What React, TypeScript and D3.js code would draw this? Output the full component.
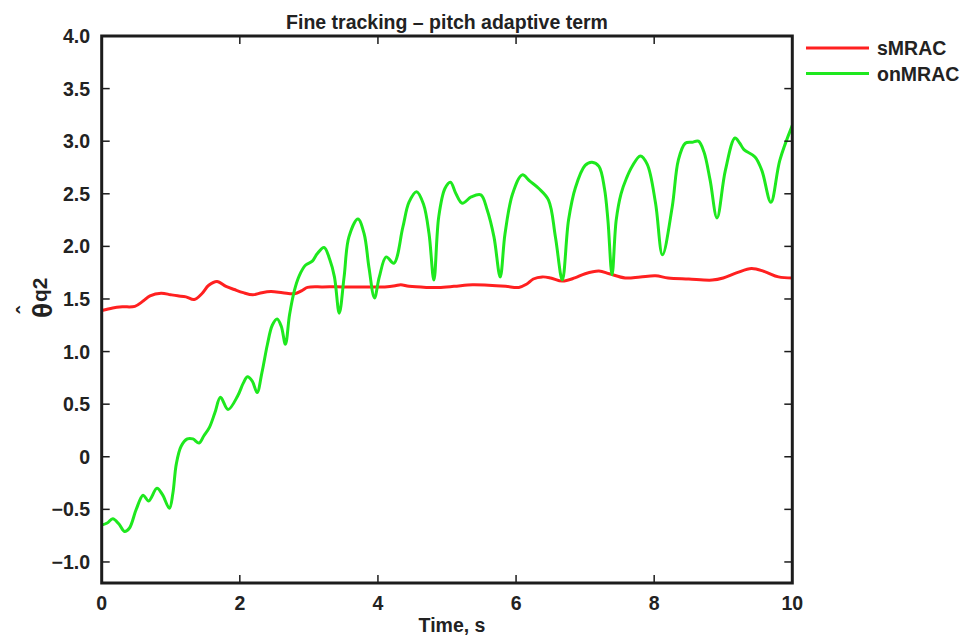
import React from "react";
import * as d3 from "d3";

const xTicks = [0, 2, 4, 6, 8, 10];
const yTicks = [-1.0, -0.5, 0, 0.5, 1.0, 1.5, 2.0, 2.5, 3.0, 3.5, 4.0];
const yTickLabels = ["\u22121.0", "\u22120.5", "0", "0.5", "1.0", "1.5", "2.0", "2.5", "3.0", "3.5", "4.0"];

const sTime = [0, 0.16, 0.3, 0.48, 0.6, 0.7, 0.86, 1.0, 1.1, 1.22, 1.34, 1.45, 1.55, 1.67, 1.8, 1.92, 2.05, 2.19, 2.32, 2.45, 2.62, 2.79, 2.9, 2.98, 3.2, 3.5, 3.8, 4.1, 4.25, 4.33, 4.45, 4.7, 4.88, 5.1, 5.37, 5.6, 5.85, 6.04, 6.15, 6.25, 6.38, 6.5, 6.67, 6.85, 7.0, 7.2, 7.35, 7.58, 7.8, 8.02, 8.2, 8.5, 8.84, 9.0, 9.2, 9.41, 9.6, 9.8, 10.0];
const sMRAC = [1.39, 1.415, 1.425, 1.43, 1.48, 1.53, 1.555, 1.54, 1.53, 1.52, 1.495, 1.55, 1.63, 1.667, 1.62, 1.59, 1.56, 1.54, 1.56, 1.57, 1.56, 1.55, 1.58, 1.61, 1.615, 1.615, 1.615, 1.615, 1.625, 1.635, 1.62, 1.61, 1.61, 1.62, 1.635, 1.63, 1.62, 1.61, 1.64, 1.69, 1.71, 1.7, 1.67, 1.7, 1.74, 1.765, 1.74, 1.7, 1.71, 1.72, 1.7, 1.69, 1.68, 1.7, 1.75, 1.79, 1.76, 1.71, 1.7];

const oTime = [0, 0.08, 0.16, 0.25, 0.33, 0.4, 0.5, 0.6, 0.68, 0.8, 0.88, 0.98, 1.03, 1.08, 1.15, 1.24, 1.32, 1.41, 1.48, 1.56, 1.64, 1.72, 1.83, 1.97, 2.05, 2.11, 2.18, 2.25, 2.32, 2.4, 2.47, 2.54, 2.6, 2.66, 2.72, 2.79, 2.86, 2.95, 3.05, 3.12, 3.22, 3.3, 3.37, 3.44, 3.51, 3.58, 3.71, 3.8, 3.87, 3.95, 4.02, 4.12, 4.23, 4.36, 4.45, 4.56, 4.66, 4.74, 4.81, 4.88, 4.97, 5.05, 5.13, 5.22, 5.35, 5.49, 5.58, 5.68, 5.77, 5.84, 5.95, 6.09, 6.2, 6.33, 6.47, 6.57, 6.67, 6.76, 6.86, 7.0, 7.1, 7.2, 7.28, 7.33, 7.39, 7.45, 7.52, 7.6, 7.68, 7.8, 7.9, 8.02, 8.12, 8.26, 8.35, 8.45, 8.55, 8.64, 8.72, 8.81, 8.91, 9.03, 9.17, 9.24, 9.3, 9.46, 9.56, 9.69, 9.82, 10.0];
const onMRAC = [-0.65, -0.63, -0.59, -0.64, -0.71, -0.68, -0.5, -0.365, -0.42, -0.3, -0.36, -0.49, -0.35, -0.07, 0.1, 0.17, 0.17, 0.13, 0.2, 0.28, 0.42, 0.565, 0.45, 0.58, 0.7, 0.76, 0.72, 0.61, 0.8, 1.07, 1.25, 1.31, 1.24, 1.07, 1.35, 1.58, 1.72, 1.82, 1.86, 1.93, 1.99, 1.88, 1.71, 1.365, 1.71, 2.09, 2.26, 2.12, 1.8, 1.51, 1.71, 1.9, 1.84, 2.18, 2.42, 2.52, 2.4, 2.12, 1.68, 2.28, 2.55, 2.61, 2.5, 2.41, 2.47, 2.49, 2.35, 2.09, 1.71, 2.12, 2.5, 2.68, 2.62, 2.55, 2.44, 2.09, 1.68, 2.25, 2.56, 2.77, 2.8, 2.76, 2.55, 2.25, 1.73, 2.25, 2.5, 2.65, 2.76, 2.86, 2.78, 2.41, 1.92, 2.37, 2.82, 2.98, 2.99, 3.0, 2.9, 2.63, 2.27, 2.72, 3.03, 2.98, 2.92, 2.85, 2.72, 2.42, 2.82, 3.15];

const seriesNames = ["sMRAC", "onMRAC"];
const seriesColors = ["#ff2020", "#1ee81e"];

const W = 966;
const H = 635;
const left = 101.7;
const right = 792.3;
const top = 36;
const bottom = 583;
const FONT = "'Liberation Sans', Arial, Helvetica, sans-serif";

export default function App() {
  const x = d3.scaleLinear().domain([0, 10]).range([left, right]);
  const y = d3.scaleLinear().domain([-1.2, 4.0]).range([bottom, top]);
  const line = d3
    .line<[number, number]>()
    .x((d) => x(d[0]))
    .y((d) => y(d[1]))
    .curve(d3.curveCatmullRom.alpha(0.5));
  const sPts = sTime.map((t, i) => [t, sMRAC[i]] as [number, number]);
  const oPts = oTime.map((t, i) => [t, onMRAC[i]] as [number, number]);
  const axisColor = "#1c1c1c";
  const tickLen = 8;

  return (
    <svg width={W} height={H} style={{ position: "absolute", left: 0, top: 0, background: "#fff" }} fontFamily={FONT}>
      <rect x={0} y={0} width={W} height={H} fill="#fff" />
      <defs>
        <clipPath id="plotclip">
          <rect x={left} y={top} width={right - left} height={bottom - top} />
        </clipPath>
      </defs>
      {/* title */}
      <text x={(left + right) / 2} y={29} textAnchor="middle" fontSize={19.5} fontWeight="bold" fill="#222">
        Fine tracking – pitch adaptive term
      </text>
      {/* data */}
      <g clipPath="url(#plotclip)">
        <path d={line(sPts) || ""} fill="none" stroke={seriesColors[0]} strokeWidth={3} strokeLinejoin="round" />
        <path d={line(oPts) || ""} fill="none" stroke={seriesColors[1]} strokeWidth={3} strokeLinejoin="round" />
      </g>
      {/* ticks */}
      {xTicks.slice(1, -1).map((t) => (
        <g key={"xt" + t}>
          <line x1={x(t)} x2={x(t)} y1={bottom} y2={bottom - tickLen} stroke={axisColor} strokeWidth={1.5} />
          <line x1={x(t)} x2={x(t)} y1={top} y2={top + tickLen} stroke={axisColor} strokeWidth={1.5} />
        </g>
      ))}
      {yTicks.slice(0, -1).map((v) => (
        <g key={"yt" + v}>
          <line x1={left} x2={left + tickLen} y1={y(v)} y2={y(v)} stroke={axisColor} strokeWidth={1.5} />
          <line x1={right} x2={right - tickLen} y1={y(v)} y2={y(v)} stroke={axisColor} strokeWidth={1.5} />
        </g>
      ))}
      {/* frame */}
      <rect x={left} y={top} width={right - left} height={bottom - top} fill="none" stroke={axisColor} strokeWidth={3} />
      {/* tick labels */}
      {xTicks.map((t) => (
        <text key={"xl" + t} x={x(t)} y={610} textAnchor="middle" fontSize={19.5} fontWeight="bold" fill="#222">
          {t}
        </text>
      ))}
      {yTicks.map((v, i) => (
        <text key={"yl" + v} x={90} y={y(v) + 7} textAnchor="end" fontSize={19.5} fontWeight="bold" fill="#222">
          {yTickLabels[i]}
        </text>
      ))}
      {/* axis labels */}
      <text x={452} y={632} textAnchor="middle" fontSize={19.5} fontWeight="bold" fill="#222">
        Time, s
      </text>
      <g transform="translate(52,318) rotate(-90)" fill="#222" fontWeight="bold">
        <text x={0} y={0} fontSize={28} textAnchor="start">θ</text>
        <text x={8} y={-19} fontSize={22} textAnchor="middle">ˆ</text>
        <text x={16} y={-5} fontSize={21}>q2</text>
      </g>
      {/* legend */}
      {seriesNames.map((n, i) => (
        <g key={n}>
          <line x1={806} x2={869} y1={48 + i * 25.5} y2={48 + i * 25.5} stroke={seriesColors[i]} strokeWidth={3} />
          <text x={877} y={55 + i * 25.5} fontSize={19.5} fontWeight="bold" fill="#222">
            {n}
          </text>
        </g>
      ))}
    </svg>
  );
}
